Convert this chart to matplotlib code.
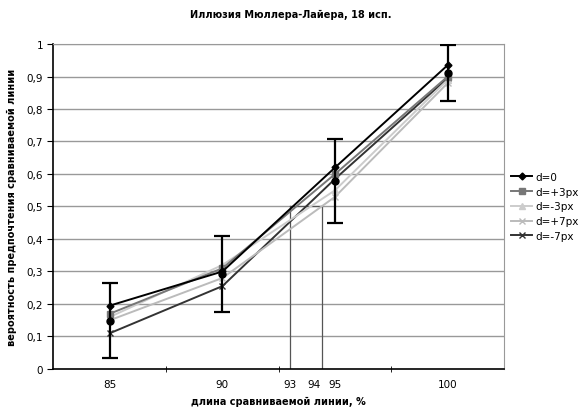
import matplotlib.pyplot as plt
import numpy as np

# line lengths, %
x = [85, 90, 95, 100]

# preference probability per offset
d0 = [0.195, 0.30, 0.62, 0.935]
d_p3 = [0.17, 0.31, 0.60, 0.90]
d_m3 = [0.16, 0.32, 0.55, 0.89]
d_p7 = [0.15, 0.28, 0.53, 0.88]
d_m7 = [0.11, 0.255, 0.585, 0.895]

# mean with error bars
mean = [0.149, 0.292, 0.579, 0.911]
err = [0.116, 0.117, 0.13, 0.086]

# 50% threshold marks
thr = [93, 94.4]
thr_labels = ["93", "94"]
thr_label_x = [93, 94.05]

plt.rcParams["font.family"] = "DejaVu Sans"

fig = plt.figure(figsize=(5.81, 4.14), dpi=100)
ax = fig.add_axes([0.092, 0.1063, 0.7755, 0.785])

for y in np.arange(0.1, 1.01, 0.1):
    ax.axhline(y, color="#999999", lw=1.0, zorder=0)

for t in thr:
    ax.plot([t, t], [0, 0.5], color="#555555", lw=0.9, zorder=1)
ax.plot([thr[0], thr[1]], [0.5, 0.5], color="#555555", lw=0.9, zorder=1)

ax.plot(x, d_m7, color="#333333", lw=1.4, marker="x", ms=4, label="d=-7px", zorder=3)
ax.plot(x, d_p7, color="#bbbbbb", lw=1.4, marker="x", ms=4, label="d=+7px", zorder=3)
ax.plot(x, d_m3, color="#cccccc", lw=1.4, marker="^", ms=4, label="d=-3px", zorder=3)
ax.plot(x, d_p3, color="#777777", lw=1.4, marker="s", ms=4, label="d=+3px", zorder=3)
ax.plot(x, d0, color="black", lw=1.4, marker="D", ms=3.5, label="d=0", zorder=4)

ax.errorbar(x, mean, yerr=err, fmt="o", color="black", ms=5, lw=1.6,
            capsize=6, capthick=1.6, zorder=5)

ax.set_xlim(82.5, 102.5)
ax.set_ylim(0, 1)
ax.set_xticks(x)
ax.set_xticklabels([str(v) for v in x])
ax.set_xticks([87.5, 92.5, 97.5], minor=True)
ax.tick_params(axis="x", which="major", length=0, pad=7, labelsize=7.5)
ax.tick_params(axis="x", which="minor", length=4, direction="inout")
ytick_vals = np.arange(0, 1.01, 0.1)
ax.set_yticks(ytick_vals)
ax.set_yticklabels(["0"] + [("%.1f" % v).replace(".", ",") for v in ytick_vals[1:-1]] + ["1"])
ax.tick_params(axis="y", length=4, labelsize=7.5)

for t, lab in zip(thr_label_x, thr_labels):
    ax.annotate(lab, (t, 0), xycoords=("data", "axes fraction"),
                xytext=(0, -7), textcoords="offset points",
                ha="center", va="top", fontsize=7.5)

for s in ["top", "right"]:
    ax.spines[s].set_color("#999999")
ax.spines["left"].set_linewidth(1.2)
ax.spines["bottom"].set_linewidth(1.2)

ax.set_xlabel("длина сравниваемой линии, %", fontsize=7, fontweight="bold", labelpad=5)
ax.set_ylabel("вероятность предпочтения сравниваемой линии", fontsize=7,
              fontweight="bold", labelpad=7)
fig.suptitle("Иллюзия Мюллера-Лайера, 18 исп.", fontsize=7, fontweight="bold", y=0.975)

h, l = ax.get_legend_handles_labels()
order = [4, 3, 2, 1, 0]
ax.legend([h[i] for i in order], [l[i] for i in order], loc="center left",
          bbox_to_anchor=(1.0, 0.5), frameon=False, fontsize=7.5,
          handlelength=2.0, labelspacing=0.45, handletextpad=0.3, borderaxespad=0.3)

fig.savefig("out.png", dpi=100)
